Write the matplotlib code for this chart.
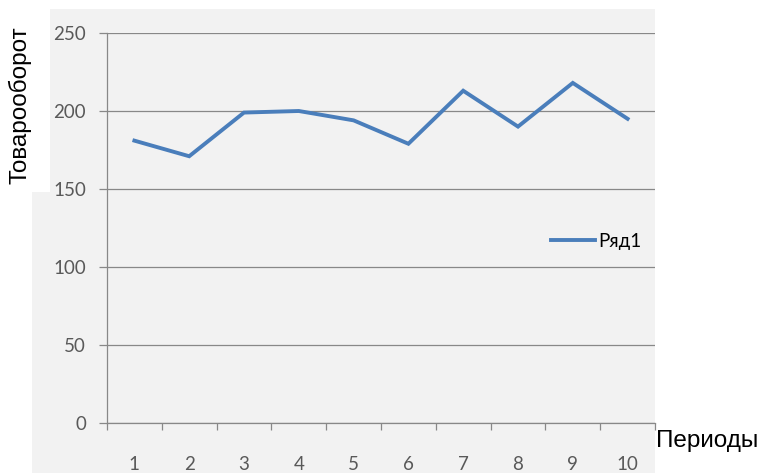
import matplotlib
matplotlib.use("Agg")
from matplotlib import pyplot as plt
from matplotlib.patches import Rectangle
from matplotlib.ticker import FixedLocator, NullFormatter

# Товарооборот по периодам
periods = [1, 2, 3, 4, 5, 6, 7, 8, 9, 10]
turnover = [181, 171, 199, 200, 194, 179, 213, 190, 218, 195]
series_name = 'Ряд1'

W, H = 759, 473
fig = plt.figure(figsize=(W / 100, H / 100), dpi=100)
fig.patch.set_facecolor('white')

# gray chart area and white box under the y label
fig.add_artist(Rectangle((32 / W, 0), 623 / W, (H - 9) / H,
                         transform=fig.transFigure, facecolor='#f2f2f2',
                         edgecolor='none', zorder=-2))
fig.add_artist(Rectangle((0, (H - 192) / H), 50 / W, 192 / H,
                         transform=fig.transFigure, facecolor='white',
                         edgecolor='none', zorder=-1))

ax = fig.add_axes([107 / W, 50 / H, 548 / W, 390 / H])
ax.set_facecolor('none')

ax.plot(periods, turnover, color='#4a7ebb', linewidth=2.8,
        solid_joinstyle='miter', label=series_name, zorder=3)

ax.set_xlim(0.5, 10.5)
ax.set_ylim(0, 250)

grid_c = '#888888'
tick_font = dict(family='Lato', size=13.5)
ax.set_yticks([0, 50, 100, 150, 200, 250])
ax.set_yticklabels(['0', '50', '100', '150', '200', '250'], color='#595959', **tick_font)
ax.yaxis.grid(True, color=grid_c, linewidth=0.9)
ax.tick_params(axis='y', length=6, width=0.9, color=grid_c, pad=9)

ax.set_xticks(periods)
ax.set_xticklabels([str(p) for p in periods], color='#595959', **tick_font)
ax.tick_params(axis='x', which='major', length=0, pad=24)
ax.xaxis.set_minor_locator(FixedLocator([p - 0.5 for p in periods] + [10.5]))
ax.xaxis.set_minor_formatter(NullFormatter())
ax.tick_params(axis='x', which='minor', length=5, width=0.9, color=grid_c)

for s in ['top', 'right']:
    ax.spines[s].set_visible(False)
for s in ['left', 'bottom']:
    ax.spines[s].set_color(grid_c)
    ax.spines[s].set_linewidth(0.9)

ax.legend(loc='center left', bbox_to_anchor=(551 / W, (H - 241) / H),
          bbox_transform=fig.transFigure, frameon=False, borderpad=0,
          borderaxespad=0, handlelength=2.35, handletextpad=0.15,
          prop=dict(family='Lato', size=13.5))

fig.text(20 / W, (H - 105) / H, 'Товарооборот', rotation=90, ha='center', va='center',
         family='Liberation Sans', fontsize=17.5, color='black')
fig.text(656 / W, (H - 441) / H, 'Периоды', ha='left', va='center',
         family='Liberation Sans', fontsize=17.5, color='black')

fig.savefig('out.png', dpi=100)
